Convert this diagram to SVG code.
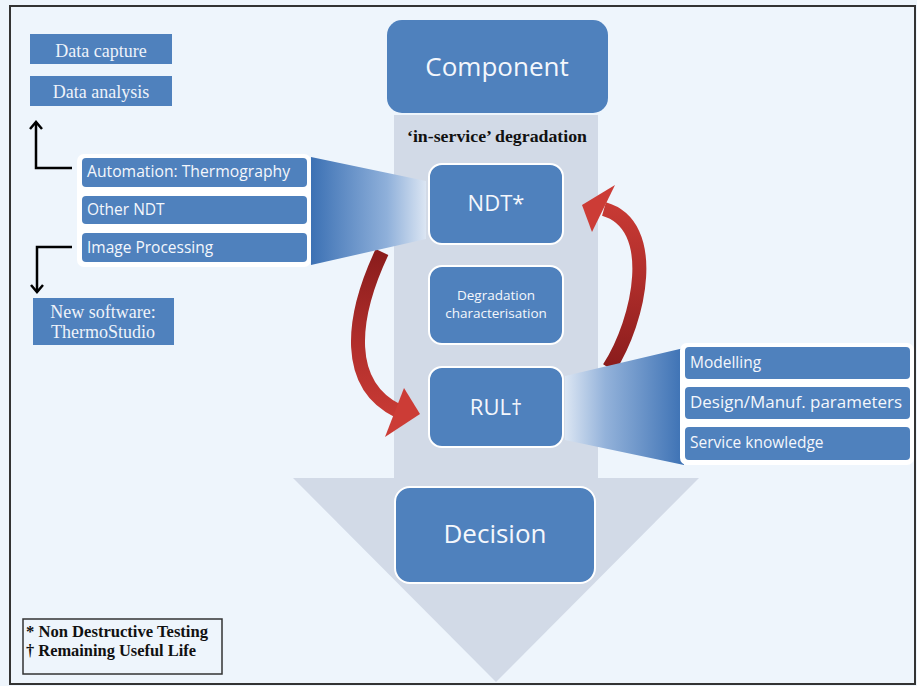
<svg xmlns="http://www.w3.org/2000/svg" width="917" height="686" viewBox="0 0 917 686">
<defs>
<style>
.box{fill:#4f81bd;stroke:#ffffff;stroke-width:2}
.sq{fill:#4f81bd}
.serif{font-family:"Liberation Serif","Times New Roman",serif;fill:#eef3fa;font-size:18px}
.sans{font-family:"Open Sans","Noto Sans",sans-serif;fill:#f4f7fc}
.list{font-size:15.5px}
.big{font-size:26px;text-anchor:middle}
.mid{font-size:22px;text-anchor:middle}
.small{font-size:13.5px;text-anchor:middle}
.legend{font-family:"Liberation Serif","Times New Roman",serif;font-weight:bold;fill:#111;font-size:16px}
.blk{fill:none;stroke:#000;stroke-width:2.5}
</style>
<linearGradient id="fl" gradientUnits="userSpaceOnUse" x1="311" y1="0" x2="428" y2="0">
<stop offset="0" stop-color="#3c71b4"/>
<stop offset="0.65" stop-color="#8fb0da"/>
<stop offset="1" stop-color="#dfe8f4"/>
</linearGradient>
<linearGradient id="fr" gradientUnits="userSpaceOnUse" x1="563" y1="0" x2="684" y2="0">
<stop offset="0" stop-color="#dfe8f4"/>
<stop offset="0.35" stop-color="#93b2da"/>
<stop offset="1" stop-color="#3c71b4"/>
</linearGradient>
<linearGradient id="rl" gradientUnits="userSpaceOnUse" x1="0" y1="252" x2="0" y2="430">
<stop offset="0" stop-color="#8a1c1c"/>
<stop offset="0.5" stop-color="#b02e2b"/>
<stop offset="1" stop-color="#cc3c36"/>
</linearGradient>
<linearGradient id="rr" gradientUnits="userSpaceOnUse" x1="0" y1="368" x2="0" y2="190">
<stop offset="0" stop-color="#8a1c1c"/>
<stop offset="0.5" stop-color="#b02e2b"/>
<stop offset="1" stop-color="#cc3c36"/>
</linearGradient>
<marker id="chev" viewBox="0 0 10 14" refX="8" refY="7" markerWidth="10" markerHeight="14" markerUnits="userSpaceOnUse" orient="auto">
<polyline points="1,1 8,7 1,13" fill="none" stroke="#000" stroke-width="2.5"/>
</marker>
</defs>

<rect x="0" y="0" width="917" height="686" fill="#eef5fc"/>
<rect x="10" y="6" width="905" height="678" fill="none" stroke="#333" stroke-width="2"/>

<g id="flow-arrow">
<rect x="394" y="115" width="204" height="364" fill="#d2dae7"/>
<polygon points="293,478 699,478 496,682" fill="#d2dae7"/>
</g>

<g id="connectors">
<path d="M382,252 C350,320 345,385 398,411" fill="none" stroke="url(#rl)" stroke-width="14"/>
<polygon points="404,388 420,414 385,437" fill="#cc3c36"/>
<path d="M609,368 C640,320 660,225 604,209" fill="none" stroke="url(#rr)" stroke-width="14"/>
<polygon points="615,185 582,205 592,232" fill="#cc3c36"/>
<polyline class="blk" points="72,168 36,168 36,122" marker-end="url(#chev)"/>
<polyline class="blk" points="72,247 37,247 37,292" marker-end="url(#chev)"/>
</g>

<g id="funnels">
<polygon points="311,157 426,181 426,239 311,265" fill="url(#fl)"/>
<polygon points="565,376 684,348 684,465 565,440" fill="url(#fr)"/>
</g>

<g id="component">
<rect x="387" y="20" width="221" height="93" rx="15" fill="#4f81bd"/>
<text class="sans big" x="497" y="76">Component</text>
</g>
<text id="in-service" x="497" y="142" text-anchor="middle" font-family="Liberation Serif, Times New Roman, serif" font-weight="bold" font-size="16.5" fill="#111" textLength="180" lengthAdjust="spacingAndGlyphs">‘in-service’ degradation</text>

<g id="ndt">
<rect class="box" x="429" y="164" width="134" height="80" rx="13"/>
<text class="sans mid" x="496" y="211">NDT*</text>
</g>
<g id="degradation">
<rect class="box" x="429" y="266" width="134" height="78" rx="13"/>
<text class="sans small" x="496" y="300">Degradation</text>
<text class="sans small" x="496" y="318">characterisation</text>
</g>
<g id="rul">
<rect class="box" x="429" y="367" width="134" height="80" rx="13"/>
<text class="sans mid" x="496" y="415">RUL†</text>
</g>
<g id="decision">
<rect class="box" x="395" y="487" width="200" height="96" rx="15"/>
<text class="sans big" x="495" y="543">Decision</text>
</g>

<g id="data-capture">
<rect class="sq" x="30" y="34" width="142" height="30"/>
<text class="serif" x="101" y="57" text-anchor="middle">Data capture</text>
</g>
<g id="data-analysis">
<rect class="sq" x="30" y="76" width="142" height="30"/>
<text class="serif" x="101" y="98" text-anchor="middle">Data analysis</text>
</g>
<g id="new-software">
<rect class="sq" x="33" y="298" width="141" height="47"/>
<text class="serif" x="103" y="318" text-anchor="middle">New software:</text>
<text class="serif" x="103" y="338" text-anchor="middle">ThermoStudio</text>
</g>

<g id="ndt-methods">
<rect x="77" y="154" width="234" height="113" rx="7" fill="#ffffff"/>
<g id="automation">
<rect class="sq" x="82" y="158" width="225" height="29" rx="4"/>
<text class="sans list" x="87" y="177" textLength="203" lengthAdjust="spacingAndGlyphs">Automation: Thermography</text>
</g>
<g id="other-ndt">
<rect class="sq" x="82" y="196" width="225" height="28" rx="4"/>
<text class="sans list" x="87" y="215">Other NDT</text>
</g>
<g id="image-processing">
<rect class="sq" x="82" y="233" width="225" height="29" rx="4"/>
<text class="sans list" x="87" y="253">Image Processing</text>
</g>
</g>

<g id="rul-inputs">
<rect x="680" y="343" width="234" height="122" rx="7" fill="#ffffff"/>
<g id="modelling">
<rect class="sq" x="685" y="347" width="225" height="32" rx="4"/>
<text class="sans list" x="690" y="368">Modelling</text>
</g>
<g id="design">
<rect class="sq" x="685" y="387" width="225" height="32" rx="4"/>
<text class="sans list" x="690" y="408" textLength="212" lengthAdjust="spacingAndGlyphs">Design/Manuf. parameters</text>
</g>
<g id="service">
<rect class="sq" x="685" y="427" width="225" height="33" rx="4"/>
<text class="sans list" x="690" y="448">Service knowledge</text>
</g>
</g>

<g id="legend">
<rect x="23" y="619" width="199" height="55" fill="#eef5fc" stroke="#333" stroke-width="1.5"/>
<text class="legend" x="26" y="637" textLength="182" lengthAdjust="spacingAndGlyphs">* Non Destructive Testing</text>
<text class="legend" x="26" y="656" textLength="170" lengthAdjust="spacingAndGlyphs">† Remaining Useful Life</text>
</g>
</svg>
